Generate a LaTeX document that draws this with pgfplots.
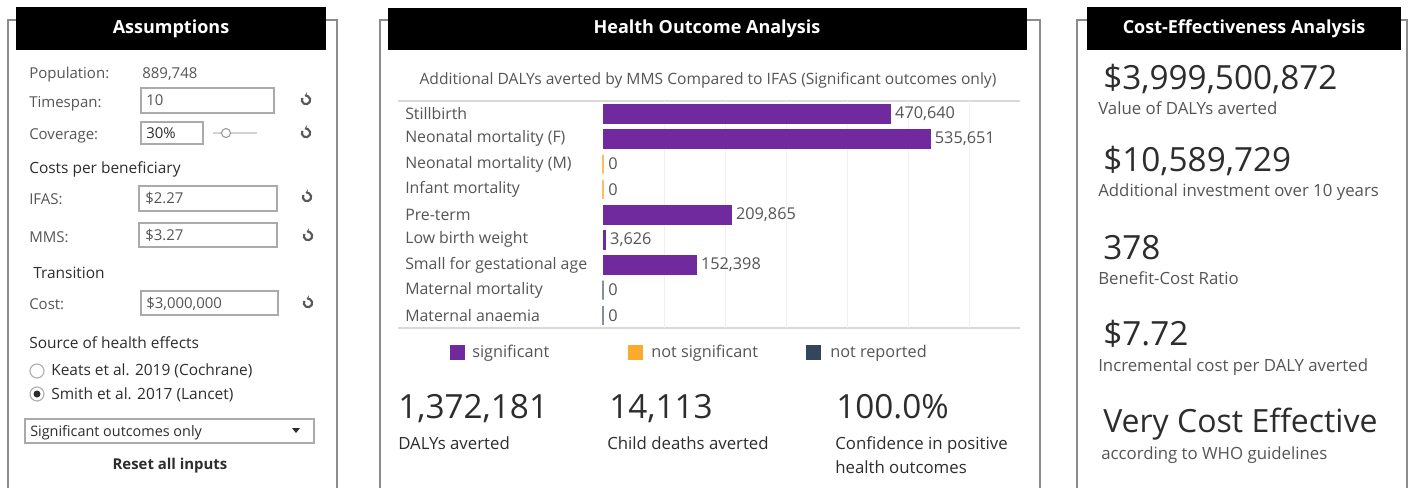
\documentclass[border=0pt]{standalone}
\usepackage{fontspec}
\setmainfont{Open Sans}
\usepackage{pgfplots}
\pgfplotsset{compat=1.18}
\usetikzlibrary{arrows.meta}
\definecolor{sig}{RGB}{112,42,158}
\definecolor{nsig}{RGB}{250,170,45}
\definecolor{nrep}{RGB}{52,70,92}
\definecolor{lbl}{RGB}{85,85,85}
\definecolor{dark}{RGB}{45,45,45}
\definecolor{frame}{RGB}{140,140,140}
\definecolor{boxc}{RGB}{170,170,170}
\newcommand{\fs}[1]{\fontsize{#1}{#1}\selectfont}
\begin{document}
\begin{tikzpicture}[x=0.75pt,y=0.75pt]
\useasboundingbox (0,0) rectangle (1413,-487);
\fill[white] (0,0) rectangle (1413,-487);
% ---------- panel frames ----------
\draw[frame, line width=0.9pt] (8,-490) -- (8,-20) -- (337,-20) -- (337,-490);
\draw[frame, line width=0.9pt] (380,-490) -- (380,-20) -- (1040,-20) -- (1040,-490);
\draw[frame, line width=0.9pt] (1077,-490) -- (1077,-20) -- (1407,-20) -- (1407,-490);
\fill[black] (16,-7) rectangle (326,-50);
\fill[black] (388,-8) rectangle (1027,-50);
\fill[black] (1087,-7) rectangle (1401,-50);
\node[white, font=\bfseries\fs{13.5}] at (171,-29) {Assumptions};
\node[white, font=\bfseries\fs{13.5}] at (707,-29) {Health Outcome Analysis};
\node[white, font=\bfseries\fs{13.5}] at (1244,-29) {Cost-Effectiveness Analysis};
% ---------- Assumptions panel ----------
\begin{scope}[every node/.style={anchor=base west, inner sep=0pt, text=lbl, font=\fs{11.25}}]
\node at (29,-78) {Population:};
\node at (142,-78) {889,748};
\node at (29,-107) {Timespan:};
\node at (29,-139) {Coverage:};
\node[text=dark, font=\fs{11.6}] at (29,-173) {Costs per beneficiary};
\node at (29,-204) {IFAS:};
\node at (29,-242) {MMS:};
\node[text=dark, font=\fs{11.6}] at (33,-278) {Transition};
\node at (29,-309) {Cost:};
\node[text=dark, font=\fs{11.6}] at (29,-348) {Source of health effects};
\node[text=dark, font=\fs{11.6}] at (51,-375) {Keats et al. 2019 (Cochrane)};
\node[text=dark, font=\fs{11.6}] at (51,-399) {Smith et al. 2017 (Lancet)};
\node[text=dark, font=\fs{10.8}] at (30,-436) {Significant outcomes only};
\end{scope}
\begin{scope}[every node/.style={anchor=base west, inner sep=0pt, text=lbl, font=\fs{11.2}}]
\draw[boxc, line width=0.9pt] (141,-88) rectangle (274,-113);
\node at (146,-105) {10};
\draw[boxc, line width=0.9pt] (141,-122) rectangle (203,-144);
\node[text=dark] at (146,-138) {30\%};
\draw[boxc, line width=0.9pt] (139,-186) rectangle (277,-211);
\node at (145,-203) {\$2.27};
\draw[boxc, line width=0.9pt] (139,-223) rectangle (277,-247);
\node at (145,-240) {\$3.27};
\draw[boxc, line width=0.9pt] (141,-291) rectangle (278,-315);
\node at (146,-308) {\$3,000,000};
\end{scope}
\draw[gray!35, line width=2pt] (213,-133) -- (257,-133);
\draw[gray!80, fill=white, line width=0.8pt] (226,-133) circle (4.5);
\foreach \yy/\xx in {100/306,133/306,197/307,236/308,303/308}{
  \draw[gray!70!black, line width=1.6pt, -{Stealth[length=2.5pt,width=4pt]}] (\xx,-\yy) ++(150:4.2) arc (150:470:4.2);
}
\draw[gray!60, line width=0.9pt] (37,-371) circle (7);
\draw[gray!60, line width=0.9pt] (37,-394) circle (7);
\fill[dark] (37,-394) circle (3.5);
\draw[boxc, line width=0.9pt] (25,-419) rectangle (314,-443);
\fill[dark] (292,-428) -- (300,-428) -- (296,-433) -- cycle;
\node[anchor=base, inner sep=0pt, text=dark, font=\bfseries\fs{11.2}] at (170,-469) {Reset all inputs};
% ---------- Health Outcome panel ----------
\node[anchor=base, inner sep=0pt, text=lbl, font=\fs{11.7}] at (708,-84) {Additional DALYs averted by MMS Compared to IFAS (Significant outcomes only)};
\draw[gray!30, line width=0.9pt] (398,-101) -- (1020,-101);
\draw[gray!30, line width=0.9pt] (398,-328) -- (1020,-328);
\begin{axis}[
  at={(452.25pt,-75.75pt)}, anchor=north west,
  width=311.25pt, height=170.25pt, scale only axis,
  xbar, bar shift=0pt, bar width=14.25pt,
  xmin=0, xmax=680000,
  ymin=-0.5, ymax=8.5, y dir=reverse,
  ytick={0,1,2,3,4,5,6,7,8},
  yticklabels={Stillbirth,Neonatal mortality (F),Neonatal mortality (M),Infant mortality,Pre-term,Low birth weight,Small for gestational age,Maternal mortality,Maternal anaemia},
  yticklabel style={anchor=west, xshift=-148.5pt, inner xsep=0pt, font=\fs{11.9}, text=lbl},
  xtick={100000,200000,300000,400000,500000,600000}, xticklabels={},
  scaled x ticks=false,
  xmajorgrids, grid style={gray!12, line width=0.7pt},
  axis line style={draw=none}, major tick length=0pt,
  clip=false,
  nodes near coords, point meta=x,
  every node near coord/.append style={font=\fs{12.2}, text=lbl, anchor=west, inner xsep=3.5pt},
  /pgf/number format/.cd, fixed, precision=0, 1000 sep={,}, assume math mode=true,
]
\addplot[fill=sig, draw=sig, line width=0.5pt] coordinates {(470640,0) (535651,1) (209865,4) (3626,5) (152398,6)};
\addplot[fill=nsig, draw=nsig!75, line width=1pt] coordinates {(0,2) (0,3)};
\addplot[fill=nrep, draw=nrep!60, line width=1pt] coordinates {(0,7) (0,8)};
\end{axis}
% legend
\fill[sig] (450,-345) rectangle (465,-360);
\fill[nsig] (628,-345) rectangle (643,-360);
\fill[nrep] (806,-345) rectangle (821,-360);
\begin{scope}[every node/.style={anchor=base west, inner sep=0pt, text=lbl, font=\fs{12.2}}]
\node at (472,-357) {significant};
\node at (651,-357) {not significant};
\node at (830,-357) {not reported};
\end{scope}
% KPIs
\begin{scope}[every node/.style={anchor=base west, inner sep=0pt, text=dark, font=\fs{25}}]
\node at (398,-418) {1,372,181};
\node at (609,-418) {14,113};
\node at (836,-418) {100.0\%};
\end{scope}
\begin{scope}[every node/.style={anchor=base west, inner sep=0pt, text=dark, font=\fs{12.6}}]
\node at (398,-449) {DALYs averted};
\node at (607,-449) {Child deaths averted};
\node at (835,-449) {Confidence in positive};
\node at (835,-473) {health outcomes};
\end{scope}
% ---------- Cost-Effectiveness panel ----------
\begin{scope}[every node/.style={anchor=base west, inner sep=0pt, text=dark, font=\fs{25}}]
\node at (1103,-89) {\$3,999,500,872};
\node at (1103,-171) {\$10,589,729};
\node at (1103,-259) {378};
\node at (1103,-345) {\$7.72};
\node[font=\fs{24}] at (1103,-432) {Very Cost Effective};
\end{scope}
\begin{scope}[every node/.style={anchor=base west, inner sep=0pt, text=lbl, font=\fs{12.6}}]
\node at (1098,-114) {Value of DALYs averted};
\node at (1098,-196) {Additional investment over 10 years};
\node at (1098,-284) {Benefit-Cost Ratio};
\node at (1098,-371) {Incremental cost per DALY averted};
\node at (1101,-459) {according to WHO guidelines};
\end{scope}
\end{tikzpicture}
\end{document}
